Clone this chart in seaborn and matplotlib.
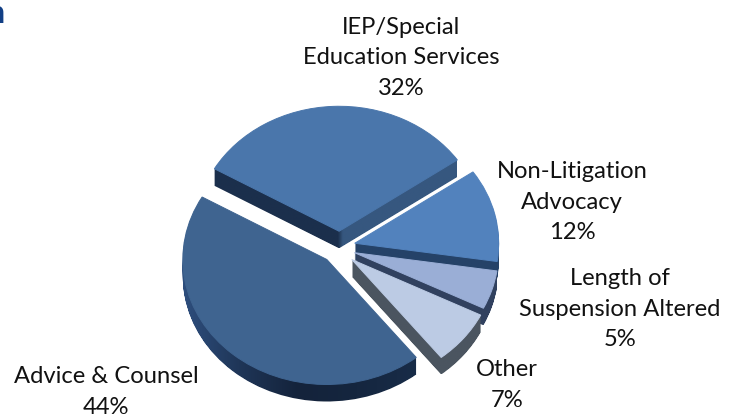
import numpy as np
import matplotlib
matplotlib.use('Agg')
import matplotlib.pyplot as plt
from matplotlib.path import Path
from matplotlib.patches import PathPatch
import seaborn as sns

categories = ['IEP/Special\nEducation Services', 'Non-Litigation\nAdvocacy', 'Length of\nSuspension Altered', 'Other', 'Advice & Counsel']
shares = [32, 12, 5, 7, 44]

explode = [0.15, 0.105, 0.105, 0.105, 0.14]
drop = [0, -0.03, -0.01, 0.01, -0.03]
top_colors = ['#4a76ab', '#5282bd', '#9aaed6', '#bccbe4', '#3f6490']
side_colors = [
    ['#1b2f4c'] * 26 + ['#36577f'] * 24,
    ['#254268', '#254268'],
    ['#31415f', '#31415f'],
    ['#4b5560', '#4b5560'],
    ['#2f5080', '#1f3658', '#14233b', '#15263f', '#182c48'],
]
label_pos = [(401, 58), (572, 202), (620, 309), (507, 385), (106, 392)]

W, H = 730, 419
cx, cy, rx, ry = 340, 250, 144, 125
depth = 17

sns.set_theme(style='white')
plt.rcParams['font.family'] = ['Lato', 'DejaVu Sans']

fig = plt.figure(figsize=(W / 100, H / 100), dpi=100)
ax = fig.add_axes([0, 0, 1, 1])
xlim = (-cx / rx, (W - cx) / rx)
ylim = ((cy - H) / ry, cy / ry)

for i in range(len(shares)):
    outlines = []
    for d in range(depth, 0, -1):
        wedges, _ = ax.pie(shares, explode=explode, startangle=150, counterclock=False,
                           center=(0, -drop[i] - d / ry))
        outlines.append(wedges[i].get_path())
        for w in wedges:
            w.remove()
    side_path = Path.make_compound_path(*outlines)
    x0, y0 = side_path.vertices.min(axis=0)
    x1, y1 = side_path.vertices.max(axis=0)
    cmap = sns.blend_palette(side_colors[i], n_colors=256, as_cmap=True)
    im = ax.imshow(np.linspace(0, 1, 256).reshape(1, -1), cmap=cmap, extent=(x0, x1, y0, y1),
                   aspect='auto', interpolation='bilinear', zorder=2 * i + 1)
    im.set_clip_path(PathPatch(side_path, transform=ax.transData))

    wedges, _ = ax.pie(shares, explode=explode, startangle=150, counterclock=False,
                       center=(0, -drop[i]), colors=top_colors,
                       wedgeprops={'linewidth': 0.7, 'edgecolor': top_colors[i]})
    for j, w in enumerate(wedges):
        if j == i:
            w.set_zorder(2 * i + 2)
        else:
            w.remove()

ax.set_aspect('auto')
ax.set_xlim(xlim)
ax.set_ylim(ylim)
ax.axis('off')

for name, share, (px, py) in zip(categories, shares, label_pos):
    fig.text(px / W, 1 - py / H, f'{name}\n{share}%', ha='center', va='center',
             fontsize=17.1, color='#111111', linespacing=1.58)

# clipped end of the slide title at the left edge
fig.text(5 / W, 1 - 23 / H, 'n', ha='right', va='baseline', fontsize=23,
         fontweight='bold', color='#123f85')

fig.savefig('out.png', dpi=100)
